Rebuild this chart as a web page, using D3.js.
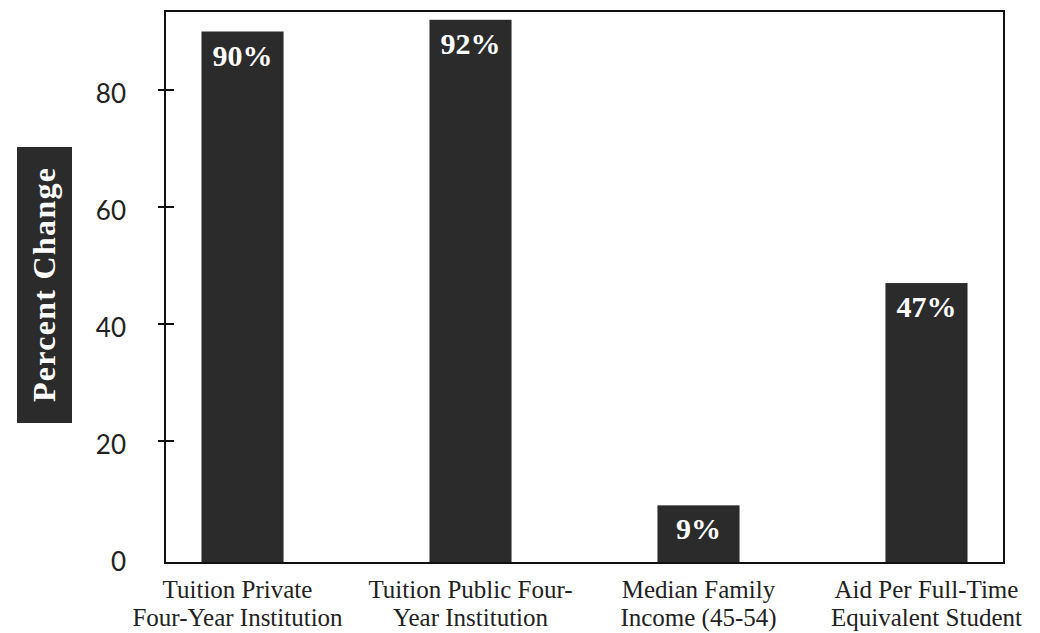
<!DOCTYPE html>
<html>
<head>
<meta charset="utf-8">
<script src="https://cdn.jsdelivr.net/npm/d3@7"></script>
<style>
  html, body { margin: 0; padding: 0; background: #ffffff; }
  svg { display: block; }
</style>
</head>
<body>
<svg id="chart" width="1040" height="633"></svg>
<script>
// ---- data ----
const categories = [
  ["Tuition Private", "Four-Year Institution"],
  ["Tuition Public Four-", "Year Institution"],
  ["Median Family", "Income (45-54)"],
  ["Aid Per Full-Time", "Equivalent Student"]
];
const values = [90, 92, 9, 47];
const valueLabels = ["90%", "92%", "9%", "47%"];
const yTicks = [0, 20, 40, 60, 80];
const yTitle = "Percent Change";

// ---- layout ----
const frame = { left: 165, right: 1004, top: 11, bottom: 563 };
const svg = d3.select("#chart");
const barColor = "#2b2b2b";

const x = d3.scaleBand()
  .domain(d3.range(categories.length))
  .range([frame.left, frame.right])
  .paddingInner(0.64)
  .paddingOuter(0.16);

const y = d3.scaleLinear()
  .domain([0, 80])
  .range([558, 90]);

// bars
svg.append("g").selectAll("rect")
  .data(values)
  .join("rect")
  .attr("x", (d, i) => x(i))
  .attr("y", d => y(d))
  .attr("width", x.bandwidth())
  .attr("height", d => frame.bottom - y(d))
  .attr("fill", barColor);

// value labels inside bars
svg.append("g").selectAll("text")
  .data(values)
  .join("text")
  .attr("x", (d, i) => x(i) + x.bandwidth() / 2)
  .attr("y", d => y(d) + 34)
  .attr("text-anchor", "middle")
  .attr("fill", "#ffffff")
  .attr("font-family", "'Liberation Serif', 'Times New Roman', serif")
  .attr("font-weight", "bold")
  .attr("font-size", 30)
  .text((d, i) => valueLabels[i]);

// frame
svg.append("rect")
  .attr("x", frame.left)
  .attr("y", frame.top)
  .attr("width", frame.right - frame.left)
  .attr("height", frame.bottom - frame.top)
  .attr("fill", "none")
  .attr("stroke", "#111")
  .attr("stroke-width", 2);

// y axis ticks (crossing marks) and labels
const yAxis = svg.append("g");
yAxis.selectAll("line")
  .data(yTicks.filter(t => t > 0))
  .join("line")
  .attr("x1", frame.left - 7)
  .attr("x2", frame.left + 9)
  .attr("y1", d => y(d))
  .attr("y2", d => y(d))
  .attr("stroke", "#111")
  .attr("stroke-width", 2);
yAxis.selectAll("text")
  .data(yTicks)
  .join("text")
  .attr("x", 126)
  .attr("y", d => y(d) + 3)
  .attr("dominant-baseline", "central")
  .attr("text-anchor", "end")
  .attr("fill", "#222")
  .attr("font-family", "Lato, 'Noto Sans', sans-serif")
  .attr("font-size", 26)
  .text(d => d);

// y title box
const tb = { x: 17, y: 147, w: 55, h: 276 };
svg.append("rect")
  .attr("x", tb.x).attr("y", tb.y)
  .attr("width", tb.w).attr("height", tb.h)
  .attr("fill", barColor);
svg.append("text")
  .attr("transform", `translate(${tb.x + tb.w / 2 + 10},${tb.y + tb.h / 2}) rotate(-90)`)
  .attr("text-anchor", "middle")
  .attr("fill", "#ffffff")
  .attr("font-family", "'Liberation Serif', 'Times New Roman', serif")
  .attr("font-weight", "bold")
  .attr("font-size", 32)
  .attr("textLength", 234)
  .attr("lengthAdjust", "spacing")
  .text(yTitle);

// category labels
const catG = svg.append("g");
categories.forEach((lines, i) => {
  lines.forEach((ln, j) => {
    catG.append("text")
      .attr("text-anchor", "middle")
      .attr("fill", "#222")
      .attr("font-family", "'Liberation Serif', 'Times New Roman', serif")
      .attr("font-size", 25)
      .attr("x", x(i) + x.bandwidth() / 2 - (i === 0 ? 5 : 0))
      .attr("y", 597.5 + j * 28.8)
      .text(ln);
  });
});
</script>
</body>
</html>
